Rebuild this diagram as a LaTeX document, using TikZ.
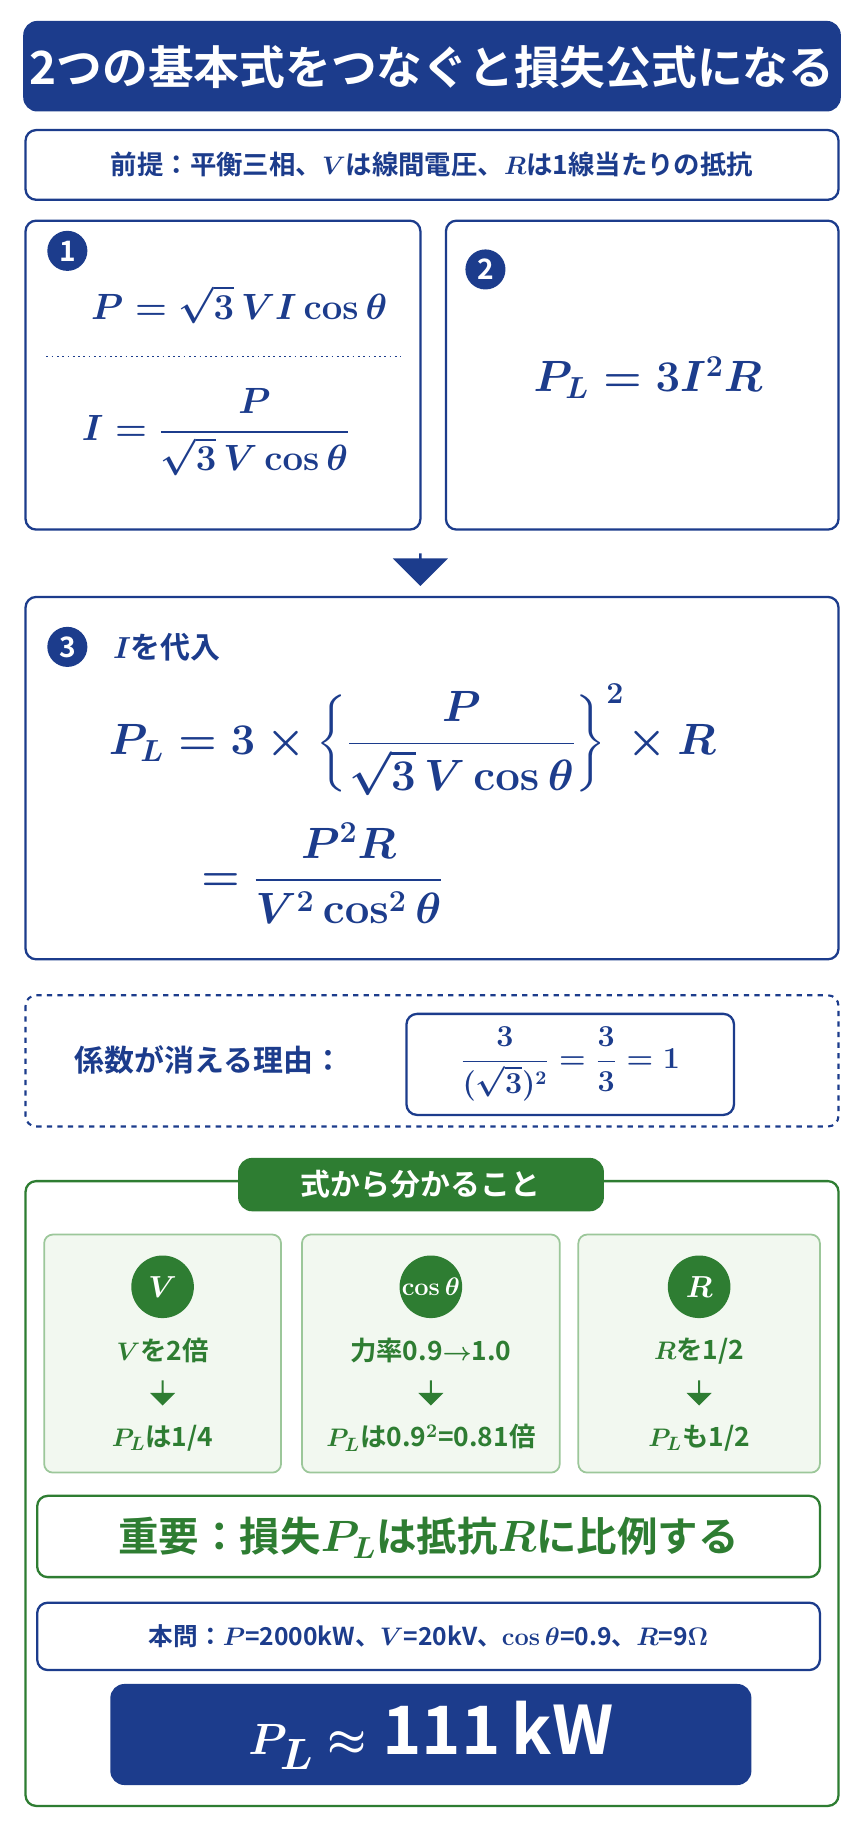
\documentclass[tikz,border=0pt]{standalone}
\usepackage{amsmath,amssymb}
\usepackage[no-math]{fontspec}
\setmainfont{Noto Sans CJK JP}[BoldFont={Noto Sans CJK JP Bold}]
\usetikzlibrary{shapes.arrows, positioning, calc}
\definecolor{Navy}{HTML}{1C3C8C}
\definecolor{Leaf}{HTML}{2E7D32}
\definecolor{LeafPale}{HTML}{F2F8F0}
\definecolor{LeafLine}{HTML}{9CC79A}
\newcommand{\fsz}[1]{\fontsize{#1}{#1}\selectfont}
\tikzset{
  bluebox/.style={draw=Navy, line width=1.3pt, rounded corners=6pt, fill=white},
  greenbox/.style={draw=Leaf, line width=1.3pt, rounded corners=6pt},
  numdot/.style={circle, fill=Navy, text=white, minimum size=0.8cm, inner sep=0pt, font=\fsz{16}\bfseries},
  gdot/.style={circle, fill=Leaf, text=white, minimum size=1.25cm, inner sep=0pt, font=\fsz{17}\bfseries\boldmath},
  mathtxt/.style={text=Navy, font=\boldmath\bfseries},
  gtxt/.style={text=Leaf, font=\fsz{15}\bfseries\boldmath},
  garrow/.style={single arrow, shape border rotate=270, fill=Leaf, minimum height=0.5cm, minimum width=0.5cm, single arrow head extend=0.08cm, inner sep=0pt}
}
\begin{document}
\begin{tikzpicture}[x=0.0232cm, y=-0.0232cm]
    \useasboundingbox (0,0) rectangle (744,1568);
    \fill[white] (0,0) rectangle (744,1568);

    % Title banner and premise
    \fill[Navy, rounded corners=8pt] (20,18) rectangle (724,96);
    \node[text=white, font=\fsz{26}\bfseries] (title) at (372,58) {2つの基本式をつなぐと損失公式になる};
    \draw[bluebox] (22,112) rectangle (722,172);
    \node[text=Navy, font=\fsz{15}\bfseries] (premise) at (372,142)
        {前提：平衡三相、$\boldsymbol{V}$は線間電圧、$\boldsymbol{R}$は1線当たりの抵抗};

    % Box 1
    \draw[bluebox] (22,190) rectangle (362,456);
    \node[numdot] (n1) at (58,216) {1};
    \node[mathtxt, font=\fsz{20}\boldmath] (f1) at (206,262) {$P = \sqrt{3}\,V I\cos\theta$};
    \draw[Navy, dotted, line width=1pt] (40,307) -- (345,307);
    \node[mathtxt, font=\fsz{20}\boldmath] (f1b) at (186,372) {$I = \dfrac{P}{\sqrt{3}\,V\cos\theta}$};

    % Box 2
    \draw[bluebox] (384,190) rectangle (722,456);
    \node[numdot] (n2) at (418,232) {2};
    \node[mathtxt, font=\fsz{23}\boldmath] (f2) at (558,325) {$P_L = 3I^2R$};

    % Arrow to box 3
    \node[single arrow, shape border rotate=270, fill=Navy, minimum height=0.65cm,
          minimum width=1.1cm, single arrow head extend=0.15cm, inner sep=0pt] (down) at (362,490) {};

    % Box 3
    \draw[bluebox] (22,514) rectangle (722,826);
    \node[numdot] (n3) at (58,557) {3};
    \node[text=Navy, font=\fsz{17}\bfseries, anchor=west] (subst) at (92,557) {$\boldsymbol{I}$を代入};
    \node[mathtxt, font=\fsz{23}\boldmath] (f3) at (355,637)
        {$P_L = 3\times\left\{\dfrac{P}{\sqrt{3}\,V\cos\theta}\right\}^{2}\!\times R$};
    \node[mathtxt, font=\fsz{23}\boldmath, anchor=west] (f3b) at (168,752)
        {$= \dfrac{P^2R}{V^2\cos^2\theta}$};

    % Coefficient reason
    \draw[Navy, dashed, line width=1.2pt, rounded corners=6pt] (22,857) rectangle (722,970);
    \node[text=Navy, font=\fsz{17}\bfseries] (why) at (180,913) {係数が消える理由：};
    \draw[bluebox] (350,873) rectangle (632,960);
    \node[text=Navy, font=\fsz{16}\bfseries\boldmath] (coef) at (491,916)
        {$\dfrac{3}{(\sqrt{3})^2} = \dfrac{3}{3} = 1$};

    % Green section
    \draw[greenbox, fill=white] (22,1017) rectangle (722,1555);
    \fill[Leaf, rounded corners=8pt] (205,997) rectangle (520,1043);
    \node[text=white, font=\fsz{17}\bfseries] (lesson) at (362,1020) {式から分かること};

    \foreach \xa/\xb/\nm in {38/242/pa, 260/482/pb, 498/706/pc}
        \draw[draw=LeafLine, line width=1pt, fill=LeafPale, rounded corners=5pt] (\xa,1063) rectangle (\xb,1268);

    \node[gdot] (gv) at (140,1108) {$V$};
    \node[gtxt] (gv1) at (140,1163) {$V$を2倍};
    \node[garrow] (gva) at (140,1199) {};
    \node[gtxt] (gv2) at (140,1238) {$P_L$は1/4};

    \node[gdot, font=\fsz{14}\bfseries\boldmath] (gc) at (371,1108) {$\cos\theta$};
    \node[gtxt] (gc1) at (371,1163) {力率0.9$\boldsymbol{\rightarrow}$1.0};
    \node[garrow] (gca) at (371,1199) {};
    \node[gtxt] (gc2) at (371,1238) {$P_L$は0.9$^2$=0.81倍};

    \node[gdot] (gr) at (602,1108) {$R$};
    \node[gtxt] (gr1) at (602,1163) {$R$を1/2};
    \node[garrow] (gra) at (602,1199) {};
    \node[gtxt] (gr2) at (602,1238) {$P_L$も1/2};

    \draw[greenbox, fill=white] (32,1288) rectangle (706,1358);
    \node[text=Leaf, font=\fsz{23}\bfseries\boldmath] (key) at (369,1324)
        {重要：損失$P_L$は抵抗$R$に比例する};

    % Problem data and result
    \draw[bluebox] (32,1380) rectangle (706,1438);
    \node[text=Navy, font=\fsz{14}\bfseries\boldmath] (data) at (369,1409)
        {本問：$P$=2000kW、$V$=20kV、$\cos\theta$=0.9、$R$=9$\Omega$};
    \fill[Navy, rounded corners=8pt] (95,1450) rectangle (647,1537);
    \node[text=white, font=\fsz{38}\bfseries\boldmath] (result) at (371,1494) {$P_L\approx$ 111\,kW};
\end{tikzpicture}
\end{document}
